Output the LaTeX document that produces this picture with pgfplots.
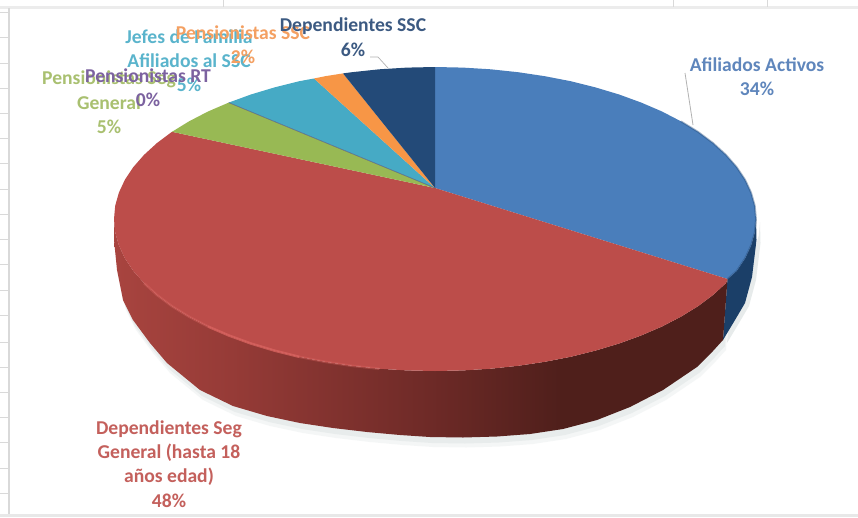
\documentclass[border=0pt]{standalone}
\usepackage{pgfplots}
\usepackage{pgfplotstable}
\usepackage{fontspec}
\setmainfont{Carlito}
\pgfplotsset{compat=1.18}
\definecolor{cblue}{HTML}{4A7EBB}
\definecolor{cred}{HTML}{BC4D4A}
\definecolor{cgreen}{HTML}{98B954}
\definecolor{cteal}{HTML}{46AAC5}
\definecolor{corange}{HTML}{F79646}
\definecolor{cnavy}{HTML}{234A78}
\definecolor{csnavy}{HTML}{1B3F68}
\definecolor{tblue}{HTML}{5F86BC}
\definecolor{tred}{HTML}{C4605C}
\definecolor{tgreen}{HTML}{A9C070}
\definecolor{tteal}{HTML}{5AB4CC}
\definecolor{torange}{HTML}{F4A062}
\definecolor{tpurple}{HTML}{7C62A0}
\definecolor{tnavy}{HTML}{3C5A82}
\definecolor{gridc}{HTML}{D9D9D9}
\definecolor{chl}{HTML}{D8625E}
\definecolor{shad}{HTML}{DDE3E3}
\definecolor{sa}{HTML}{A8443F}
\definecolor{sb}{HTML}{963B37}
\definecolor{sc}{HTML}{6E2A27}
\definecolor{sd}{HTML}{4F1F1B}
\pgfdeclarehorizontalshading{redside}{100bp}{
 color(0bp)=(sa);
 color(25bp)=(sa);
 color(34.5bp)=(sb);
 color(50.75bp)=(sc);
 color(61.5bp)=(sd);
 color(75bp)=(sd);
 color(100bp)=(sd)}
\pgfplotstableread{
x y
727.5 279
725.9 283.2
713 295
698 306.2
680.9 316.7
662 326.5
641.3 335.4
619.1 343.5
595.5 350.6
570.7 356.8
544.8 361.8
518.1 365.8
490.7 368.7
463 370.4
435 371
407 370.4
379.3 368.7
351.9 365.8
325.2 361.8
299.3 356.8
274.5 350.6
250.9 343.5
228.7 335.4
208 326.5
189.1 316.7
172 306.2
157 295
144.1 283.2
133.4 271
124.9 258.3
118.9 245.4
115.2 232.3
114 219
114 240
117 270
123 300
133 320
150 343
167 363
200 390
233 406
267 416
300 423
333 428
367 432
400 435
430 437
463 437.5
497 436.5
530 434
563 429
597 420
630 407
663 390
697 367
713 351
723 340
}\redside
\pgfplotstableread{
x y
756 219
754.8 232.3
751.1 245.4
745.1 258.3
736.6 271
727.5 279
723 340
735 320
745 303
752 277
756.5 240
}\navyside
\begin{document}
\begin{tikzpicture}
\begin{axis}[hide axis, scale only axis, width=858pt, height=517pt,
  xmin=0, xmax=858, ymin=0, ymax=517, y dir=reverse, clip=true]
% background
\addplot[fill=white, draw=none] coordinates {(0,0)(858,0)(858,517)(0,517)} -- cycle;
\addplot[fill=gridc!60, draw=none] coordinates {(0,514)(858,514)(858,517)(0,517)} -- cycle;
\addplot[fill=gridc!50, draw=none] coordinates {(0,6)(858,6)(858,9)(0,9)} -- cycle;
% worksheet grid
\addplot[gridc] coordinates {(0,12)(9,12)};
\addplot[gridc] coordinates {(0,37)(9,37)};
\addplot[gridc] coordinates {(0,63)(9,63)};
\addplot[gridc] coordinates {(0,88)(9,88)};
\addplot[gridc] coordinates {(0,113)(9,113)};
\addplot[gridc] coordinates {(0,138)(9,138)};
\addplot[gridc] coordinates {(0,163)(9,163)};
\addplot[gridc] coordinates {(0,189)(9,189)};
\addplot[gridc] coordinates {(0,214)(9,214)};
\addplot[gridc] coordinates {(0,239)(9,239)};
\addplot[gridc] coordinates {(0,264)(9,264)};
\addplot[gridc] coordinates {(0,290)(9,290)};
\addplot[gridc] coordinates {(0,315)(9,315)};
\addplot[gridc] coordinates {(0,342)(9,342)};
\addplot[gridc] coordinates {(0,367)(9,367)};
\addplot[gridc] coordinates {(0,392)(9,392)};
\addplot[gridc] coordinates {(0,417)(9,417)};
\addplot[gridc] coordinates {(0,442)(9,442)};
\addplot[gridc] coordinates {(0,468)(9,468)};
\addplot[gridc] coordinates {(0,493)(9,493)};
\addplot[gridc] coordinates {(223,0)(223,7)};
\addplot[gridc] coordinates {(673,0)(673,7)};
\addplot[gridc] coordinates {(767,0)(767,7)};
\addplot[gridc, line width=1.2pt] coordinates {(9,8)(9,514)};
% soft shadow
\addplot[fill=shad, draw=none, fill opacity=.3, yshift=-10pt, xshift=3pt] table {\redside} -- cycle;
\addplot[fill=shad, draw=none, fill opacity=.5, yshift=-6pt, xshift=2pt] table {\redside} -- cycle;
\addplot[fill=shad, draw=none, fill opacity=.7, yshift=-3pt, xshift=4pt] table {\navyside} -- cycle;
% sides
\addplot[fill=csnavy, draw=none] table {\navyside} -- cycle;
\addplot[shade, shading=redside, draw=none] table {\redside} -- cycle;
% top faces
\addplot[fill=cblue, draw=none] coordinates {(435,188)(435,67)(463,67.6)(490.7,69.3)(518.1,72.2)(544.8,76.2)(570.7,81.2)(595.5,87.4)(619.1,94.5)(641.3,102.6)(662,111.5)(680.9,121.3)(698,131.8)(713,143)(725.9,154.8)(736.6,167)(745.1,179.7)(751.1,192.6)(754.8,205.7)(756,219)(754.8,232.3)(751.1,245.4)(745.1,258.3)(736.6,271)(727.5,279)} -- cycle;
\addplot[fill=cred, draw=none] coordinates {(435,188)(727.5,279)(725.9,283.2)(713,295)(698,306.2)(680.9,316.7)(662,326.5)(641.3,335.4)(619.1,343.5)(595.5,350.6)(570.7,356.8)(544.8,361.8)(518.1,365.8)(490.7,368.7)(463,370.4)(435,371)(407,370.4)(379.3,368.7)(351.9,365.8)(325.2,361.8)(299.3,356.8)(274.5,350.6)(250.9,343.5)(228.7,335.4)(208,326.5)(189.1,316.7)(172,306.2)(157,295)(144.1,283.2)(133.4,271)(124.9,258.3)(118.9,245.4)(115.2,232.3)(114,219)(115.2,205.7)(118.9,192.6)(124.9,179.7)(133.4,167)(144.1,154.8)(157,143)(172,131.8)} -- cycle;
\addplot[fill=cgreen, draw=none] coordinates {(435,188)(172,131.8)(189.1,121.3)(208,111.5)(228.7,102.6)} -- cycle;
\addplot[fill=cteal, draw=none] coordinates {(435,188)(228.7,102.6)(250.9,94.5)(274.5,87.4)(299.3,81.2)(314,78.5)} -- cycle;
\addplot[fill=corange, draw=none] coordinates {(435,188)(314,78.5)(325.2,76.2)(343,73.4)} -- cycle;
\addplot[fill=cnavy, draw=none] coordinates {(435,188)(343,73.4)(351.9,72.2)(379.3,69.3)(407,67.6)(435,67)} -- cycle;
\addplot[color=tpurple!70!black, line width=.7pt, opacity=.6] coordinates {(435,188)(228.7,102.6)};
% rim bevels
\addplot[color=cnavy, line width=1.8pt, opacity=.4] coordinates {(680.9,121.3)(698,131.8)(713,143)(725.9,154.8)(736.6,167)(745.1,179.7)(751.1,192.6)(754.8,205.7)(756,219)(754.8,232.3)(751.1,245.4)(745.1,258.3)(736.6,271)(727.5,279)};
\addplot[color=chl, line width=2.5pt, opacity=.45] coordinates {(144.1,283.2)(157,295)(172,306.2)(189.1,316.7)(208,326.5)};
\addplot[color=chl, line width=2.5pt, opacity=.8] coordinates {(208,326.5)(228.7,335.4)(250.9,343.5)(274.5,350.6)(299.3,356.8)};
\addplot[color=chl, line width=2.5pt, opacity=.4] coordinates {(299.3,356.8)(325.2,361.8)(351.9,365.8)(379.3,368.7)};
% leader lines
\addplot[color=gray!60, line width=.7pt] coordinates {(370,57)(378,57)(388,68)};
\addplot[color=gray!60, line width=.8pt] coordinates {(685,73)(693,125)};
% labels
\tikzset{lab/.style={font=\fontsize{19.6}{24}\selectfont\bfseries, inner sep=0pt, align=center}}
\node[lab, text=tblue] at (axis cs:757,65) {Afiliados Activos};
\node[lab, text=tblue] at (axis cs:757,89) {34\%};
\node[lab, text=tred] at (axis cs:169,429) {Dependientes Seg};
\node[lab, text=tred] at (axis cs:169,453) {General (hasta 18};
\node[lab, text=tred] at (axis cs:169,477) {años edad)};
\node[lab, text=tred] at (axis cs:169,501) {48\%};
\node[lab, text=tgreen] at (axis cs:109,79) {Pensionistas Seg};
\node[lab, text=tgreen] at (axis cs:109,103) {General};
\node[lab, text=tgreen] at (axis cs:109,127) {5\%};
\node[lab, text=tteal] at (axis cs:189,37) {Jefes de Familia};
\node[lab, text=tteal] at (axis cs:189,61) {Afiliados al SSC};
\node[lab, text=tteal] at (axis cs:189,85) {5\%};
\node[lab, text=torange] at (axis cs:243,33) {Pensionistas SSC};
\node[lab, text=torange] at (axis cs:243,57) {2\%};
\node[lab, text=tpurple] at (axis cs:148,76) {Pensionistas RT};
\node[lab, text=tpurple] at (axis cs:148,100) {0\%};
\node[lab, text=tnavy] at (axis cs:353,26) {Dependientes SSC};
\node[lab, text=tnavy] at (axis cs:353,50) {6\%};
\end{axis}
\end{tikzpicture}
\end{document}
